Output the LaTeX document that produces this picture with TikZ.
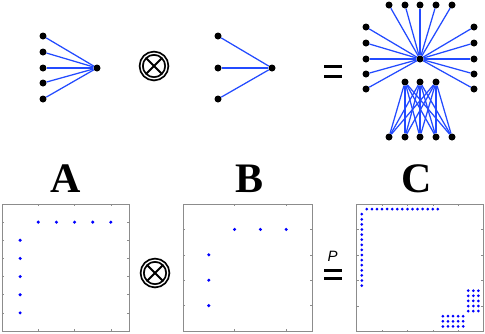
\documentclass[tikz,border=0pt]{standalone}
\usepackage{fontspec}
\setmainfont{Liberation Serif}
\setsansfont{Liberation Sans}
\usepackage{tikz}
\usetikzlibrary{positioning}
\definecolor{edgeblue}{RGB}{35,75,255}
\definecolor{dotblue}{RGB}{0,0,255}

\begin{document}
\begin{tikzpicture}[x=1pt, y=-1pt,
    vertex/.style={circle, fill=black, inner sep=0pt, minimum size=7pt},
    link/.style={draw=edgeblue, line width=1.25pt},
    kron/.style={circle, draw, double, line width=1.8pt, double distance=1.3pt, minimum size=25.6pt, inner sep=0pt},
    letter/.style={font=\fontsize{42}{42}\selectfont\bfseries},
    bar/.style={draw, line width=3pt},
    frame/.style={draw=black!45, line width=0.8pt},
    tick/.style={draw=black!45, line width=0.5pt},
    entry/.style={fill=dotblue}
]
    \useasboundingbox (0,0) rectangle (485,333);

    % Graph A
    \node[vertex] (a0) at (97,68) {};
    \foreach \y [count=\i] in {36,52,68,83,99}
        \node[vertex] (a\i) at (43,\y) {};

    % Graph B
    \node[vertex] (b0) at (272,68) {};
    \foreach \y [count=\i] in {36,68,99}
        \node[vertex] (b\i) at (218,\y) {};

    % Graph C
    \node[vertex] (c0) at (420,59) {};
    \foreach \x [count=\i] in {389,405,420,436,452} {
        \node[vertex] (ct\i) at (\x,5) {};
        \node[vertex] (cb\i) at (\x,137) {};
    }
    \foreach \y [count=\i] in {27,43,59,74,89} {
        \node[vertex] (cl\i) at (366,\y) {};
        \node[vertex] (cr\i) at (474,\y) {};
    }
    \foreach \x [count=\i] in {405,420,436}
        \node[vertex] (cm\i) at (\x,82) {};

    % Connections
    \foreach \i in {1,...,5} \draw[link] (a\i) -- (a0);
    \foreach \i in {1,...,3} \draw[link] (b\i) -- (b0);
    \foreach \i in {1,...,5} {
        \draw[link] (c0) -- (ct\i);
        \draw[link] (c0) -- (cl\i);
        \draw[link] (c0) -- (cr\i);
    }
    \foreach \i in {1,...,3}
        \foreach \j in {1,...,5}
            \draw[link] (cm\i) -- (cb\j);

    % Operators
    \node[kron] (k1) at (154,66) {};
    \node[kron] (k2) at (155,273) {};
    \foreach \k in {k1,k2} {
        \draw[line width=1.8pt] ([shift={(-7.6,-7.6)}]\k.center) -- ([shift={(7.6,7.6)}]\k.center);
        \draw[line width=1.8pt] ([shift={(-7.6,7.6)}]\k.center) -- ([shift={(7.6,-7.6)}]\k.center);
    }
    \draw[bar] (324,66.7) -- (342,66.7);
    \draw[bar] (324,76.7) -- (342,76.7);
    \draw[bar] (324,270.3) -- (342,270.3);
    \draw[bar] (324,278) -- (342,278);
    \node[font=\sffamily\itshape\fontsize{15}{15}\selectfont] (perm) at (332.7,256.5) {P};

    % Labels
    \node[letter] (labA) at (65.7,179) {A};
    \node[letter] (labB) at (250,179) {B};
    \node[letter] (labC) at (416.7,179) {C};

    % Matrix A
    \begin{scope}[shift={(2,204)}, x=18.14pt, y=-18.14pt]
        \draw[frame] (0,0) rectangle (7,7);
        \foreach \t in {2,4,6} {
            \draw[tick] (\t,0) -- ++(0pt,-2pt);
            \draw[tick] (\t,7) -- ++(0pt,2pt);
        }
        \foreach \t in {1,...,6} {
            \draw[tick] (0,\t) -- ++(2pt,0pt);
            \draw[tick] (7,\t) -- ++(-2pt,0pt);
        }
        \foreach \t in {2,...,6} {
            \fill[entry] (\t,1) circle (1.7pt);
            \fill[entry] (1,\t) circle (1.7pt);
        }
    \end{scope}

    % Matrix B
    \begin{scope}[shift={(183,204)}, x=25.8pt, y=-25.4pt]
        \draw[frame] (0,0) rectangle (5,5);
        \foreach \t in {2,4} {
            \draw[tick] (\t,0) -- ++(0pt,-2pt);
            \draw[tick] (\t,5) -- ++(0pt,2pt);
        }
        \foreach \t in {1,...,4} {
            \draw[tick] (0,\t) -- ++(2pt,0pt);
            \draw[tick] (5,\t) -- ++(-2pt,0pt);
        }
        \foreach \t in {2,...,4} {
            \fill[entry] (\t,1) circle (1.7pt);
            \fill[entry] (1,\t) circle (1.7pt);
        }
    \end{scope}

    % Matrix C
    \begin{scope}[shift={(356.7,204)}, x=5.07pt, y=-5.1pt]
        \draw[frame] (0,0) rectangle (25,25);
        \foreach \t in {5,10,15,20} {
            \draw[tick] (\t,0) -- ++(0pt,-2pt);
            \draw[tick] (\t,25) -- ++(0pt,2pt);
            \draw[tick] (0,\t) -- ++(2pt,0pt);
            \draw[tick] (25,\t) -- ++(-2pt,0pt);
        }
        \foreach \t in {2,...,16} {
            \fill[entry] (\t,1) circle (1.5pt);
            \fill[entry] (1,\t) circle (1.5pt);
        }
        \foreach \r in {17,...,21}
            \foreach \c in {22,23,24} {
                \fill[entry] (\c,\r) circle (1.5pt);
                \fill[entry] (\r,\c) circle (1.5pt);
            }
    \end{scope}
\end{tikzpicture}
\end{document}
